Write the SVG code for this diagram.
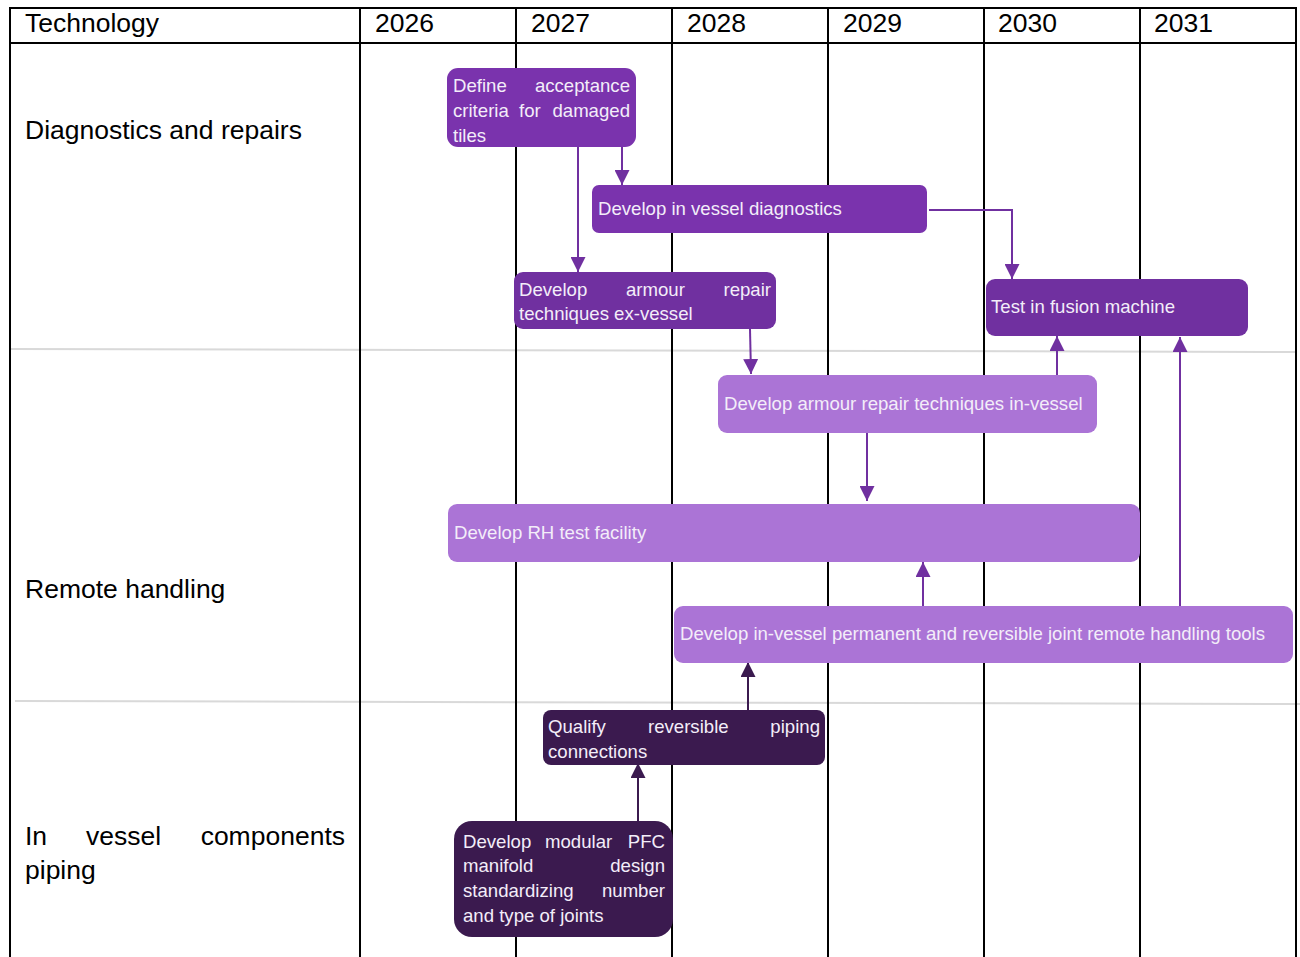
<svg xmlns="http://www.w3.org/2000/svg" width="1300" height="957" viewBox="0 0 1300 957">
<style>
.hdr{font-family:"Liberation Sans",Arial,sans-serif;font-size:26.5px;fill:#000}
.nt{font-family:"Liberation Sans",Arial,sans-serif;font-size:18.6px;fill:#f3edf9}
.grid{stroke:#000;stroke-width:2;fill:none}
.sep{stroke:#d9d9d9;stroke-width:2;fill:none}
.c1{stroke:#7030a0;stroke-width:2;fill:none}
.c2{stroke:#3b1a4f;stroke-width:2;fill:none}
.pA{fill:#7a33ad}
.pB{fill:#7030a0}
.pL{fill:#ab74d6}
.pD{fill:#3b1a4f}
</style>
<defs>
<marker id="a1" viewBox="0 0 10 10" refX="10" refY="5" markerWidth="7.5" markerHeight="7.5" markerUnits="strokeWidth" orient="auto"><path d="M0,0 L10,5 L0,10 z" fill="#7030a0"/></marker>
<marker id="a2" viewBox="0 0 10 10" refX="10" refY="5" markerWidth="7.5" markerHeight="7.5" markerUnits="strokeWidth" orient="auto"><path d="M0,0 L10,5 L0,10 z" fill="#3b1a4f"/></marker>
</defs>
<rect width="1300" height="957" fill="#fff"/>
<g id="grid">
<line class="sep" x1="10" y1="349" x2="1296" y2="352"/>
<line class="sep" x1="15" y1="701" x2="1300" y2="704"/>
<line class="grid" x1="10" y1="8" x2="1296" y2="8"/>
<line class="grid" x1="10" y1="43" x2="1296" y2="43"/>
<line class="grid" x1="10" y1="7" x2="10" y2="957"/>
<line class="grid" x1="360" y1="7" x2="360" y2="957"/>
<line class="grid" x1="516" y1="7" x2="516" y2="957"/>
<line class="grid" x1="672" y1="7" x2="672" y2="957"/>
<line class="grid" x1="828" y1="7" x2="828" y2="957"/>
<line class="grid" x1="984" y1="7" x2="984" y2="957"/>
<line class="grid" x1="1140" y1="7" x2="1140" y2="957"/>
<line class="grid" x1="1296" y1="7" x2="1296" y2="957"/>
<text class="hdr" x="25" y="32">Technology</text>
<text class="hdr" x="375" y="32">2026</text>
<text class="hdr" x="531" y="32">2027</text>
<text class="hdr" x="687" y="32">2028</text>
<text class="hdr" x="843" y="32">2029</text>
<text class="hdr" x="998" y="32">2030</text>
<text class="hdr" x="1154" y="32">2031</text>
<text class="hdr" x="25" y="139">Diagnostics and repairs</text>
<text class="hdr" x="25" y="598">Remote handling</text>
<text class="hdr" y="845"><tspan x="25">In</tspan><tspan x="86">vessel</tspan><tspan x="345" text-anchor="end">components</tspan></text>
<text class="hdr" x="25" y="879">piping</text>
</g>
<g id="connectors">
<line class="c1" x1="578" y1="147" x2="578" y2="272" marker-end="url(#a1)"/>
<line class="c1" x1="622" y1="147" x2="622" y2="185" marker-end="url(#a1)"/>
<polyline class="c1" points="929,210 1012,210 1012,279" marker-end="url(#a1)"/>
<line class="c1" x1="750" y1="329" x2="751" y2="374" marker-end="url(#a1)"/>
<line class="c1" x1="1057" y1="375" x2="1057" y2="336" marker-end="url(#a1)"/>
<line class="c1" x1="867" y1="433" x2="867" y2="501" marker-end="url(#a1)"/>
<line class="c1" x1="923" y1="606" x2="923" y2="562" marker-end="url(#a1)"/>
<line class="c1" x1="1180" y1="606" x2="1180" y2="337" marker-end="url(#a1)"/>
<line class="c2" x1="748" y1="710" x2="748" y2="662" marker-end="url(#a2)"/>
<line class="c2" x1="638" y1="821" x2="638" y2="763" marker-end="url(#a2)"/>
</g>
<g id="n1">
<rect class="pA" x="447" y="68" width="189" height="79" rx="11"/>
<text class="nt" y="92"><tspan x="453">Define</tspan><tspan x="630" text-anchor="end">acceptance</tspan></text>
<text class="nt" y="117"><tspan x="453">criteria</tspan><tspan x="519">for</tspan><tspan x="630" text-anchor="end">damaged</tspan></text>
<text class="nt" x="453" y="142">tiles</text>
</g>
<g id="n2">
<rect class="pA" x="592" y="185" width="335" height="48" rx="7"/>
<text class="nt" x="598" y="215">Develop in vessel diagnostics</text>
</g>
<g id="n3">
<rect class="pB" x="514" y="272" width="262" height="57" rx="9"/>
<text class="nt" y="296"><tspan x="519">Develop</tspan><tspan x="626">armour</tspan><tspan x="771" text-anchor="end">repair</tspan></text>
<text class="nt" x="519" y="320">techniques ex-vessel</text>
</g>
<g id="n4">
<rect class="pB" x="986" y="279" width="262" height="57" rx="9"/>
<text class="nt" x="991" y="313">Test in fusion machine</text>
</g>
<g id="n5">
<rect class="pL" x="718" y="375" width="379" height="58" rx="9"/>
<text class="nt" x="724" y="410">Develop armour repair techniques in-vessel</text>
</g>
<g id="n6">
<rect class="pL" x="448" y="504" width="692" height="58" rx="9"/>
<text class="nt" x="454" y="539">Develop RH test facility</text>
</g>
<g id="n7">
<rect class="pL" x="674" y="606" width="619" height="57" rx="9"/>
<text class="nt" x="680" y="640">Develop in-vessel permanent and reversible joint remote handling tools</text>
</g>
<g id="n8">
<rect class="pD" x="543" y="710" width="282" height="55" rx="8"/>
<text class="nt" y="733"><tspan x="548">Qualify</tspan><tspan x="648">reversible</tspan><tspan x="820" text-anchor="end">piping</tspan></text>
<text class="nt" x="548" y="758">connections</text>
</g>
<g id="n9">
<rect class="pD" x="454" y="821" width="219" height="116" rx="18"/>
<text class="nt" y="848"><tspan x="463">Develop</tspan><tspan x="545">modular</tspan><tspan x="665" text-anchor="end">PFC</tspan></text>
<text class="nt" y="872"><tspan x="463">manifold</tspan><tspan x="665" text-anchor="end">design</tspan></text>
<text class="nt" y="897"><tspan x="463">standardizing</tspan><tspan x="665" text-anchor="end">number</tspan></text>
<text class="nt" x="463" y="922">and type of joints</text>
</g>
</svg>
